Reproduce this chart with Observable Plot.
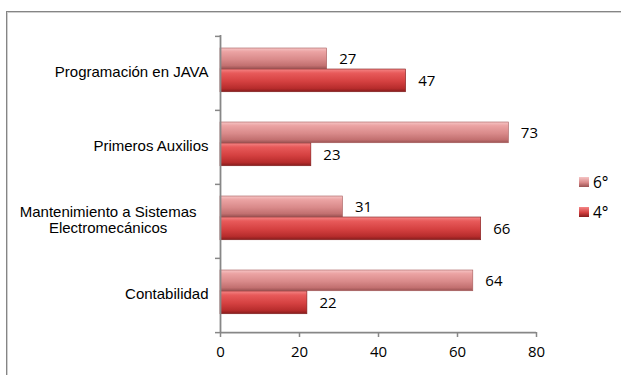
<!DOCTYPE html>
<html>
<head>
<meta charset="utf-8">
<script src="https://cdn.jsdelivr.net/npm/d3@7"></script>
<script src="https://cdn.jsdelivr.net/npm/@observablehq/plot@0.6"></script>
<style>
  html, body { margin: 0; padding: 0; background: #fff; }
  #wrap { position: relative; width: 621px; height: 375px; overflow: hidden; background: #fff; }
  #border { position: absolute; left: 6px; top: 11px; width: 700px; height: 420px; border: 1px solid #858585; box-shadow: inset 1px 1px 0 #d0d0d0; }
  #chart { position: absolute; left: 0; top: 0; }
  #legend { position: absolute; left: 579px; top: 171px; font-family: "Open Sans", sans-serif; font-size: 15.5px; color: #000; }
  .item { display: flex; align-items: center; height: 22px; margin-bottom: 8px; }
  .sw { width: 10px; height: 10px; margin-right: 4px; box-sizing: border-box; }
</style>
</head>
<body>
<div id="wrap">
  <div id="border"></div>
  <div id="chart"></div>
  <div id="legend"></div>
</div>
<script>
// ---- data ----
const categories = ["Programación en JAVA", "Primeros Auxilios", "Mantenimiento a Sistemas\nElectromecánicos", "Contabilidad"];
const seriesNames = ["6°", "4°"];
const values6 = [27, 73, 31, 64];
const values4 = [47, 23, 66, 22];
const xTicks = [0, 20, 40, 60, 80];

const data6 = categories.map((c, i) => ({cat: c, v: values6[i]}));
const data4 = categories.map((c, i) => ({cat: c, v: values4[i]}));

const grads = {
  g6: [["0%", "#f6c4c4"], ["18%", "#eba3a3"], ["55%", "#d98a8a"], ["85%", "#c27070"], ["100%", "#9a5252"]],
  g4: [["0%", "#f48686"], ["18%", "#e85a5a"], ["55%", "#d44040"], ["85%", "#b72c2c"], ["100%", "#861c1c"]]
};

function defsMark() {
  const svg = d3.create("svg:defs");
  for (const [id, stops] of Object.entries(grads)) {
    const g = svg.append("linearGradient").attr("id", id).attr("x1", 0).attr("y1", 0).attr("x2", 0).attr("y2", 1);
    for (const [o, c] of stops) g.append("stop").attr("offset", o).attr("stop-color", c);
  }
  return svg.node();
}

const band = (332 - 35) / categories.length;
const axisColor = "#878787";

const chart = Plot.plot({
  width: 621,
  height: 375,
  marginLeft: 220,
  marginRight: 85,
  marginTop: 35,
  marginBottom: 43,
  style: {background: "transparent", overflow: "visible"},
  x: {domain: [xTicks[0], xTicks[xTicks.length - 1]], axis: null, label: null},
  y: {domain: categories, padding: 0, axis: null, label: null},
  marks: [
    defsMark,
    Plot.barX(data6, {x: "v", y: "cat", fill: "url(#g6)", stroke: "#a55a5a", strokeWidth: 0.6, insetTop: 12, insetBottom: band - 33}),
    Plot.barX(data4, {x: "v", y: "cat", fill: "url(#g4)", stroke: "#7e1c1c", strokeWidth: 0.6, insetTop: 33, insetBottom: band - 56}),
    Plot.text(data6, {x: "v", y: "cat", text: d => String(d.v), dx: 12, dy: -14.5, textAnchor: "start", fontSize: 15, fontFamily: "Open Sans", fill: "#000"}),
    Plot.text(data4, {x: "v", y: "cat", text: d => String(d.v), dx: 12, dy: 7.5, textAnchor: "start", fontSize: 15, fontFamily: "Open Sans", fill: "#000"}),
    Plot.ruleX([xTicks[0]], {stroke: axisColor, strokeWidth: 1.8}),
    Plot.ruleY([categories[categories.length - 1]], {y: d => d, x1: xTicks[0], x2: xTicks[xTicks.length - 1], dy: band / 2, stroke: axisColor, strokeWidth: 1.8}),
    Plot.axisY({label: null, tickSize: 0, tickPadding: 12, dy: -2, fontSize: 15, fontFamily: "Liberation Sans, Arial, sans-serif", lineHeight: 1.07, fill: "#000"}),
    Plot.axisY({label: null, tickSize: 5, tickFormat: () => "", dy: -band / 2, stroke: axisColor, strokeWidth: 1.5}),
    Plot.axisY({label: null, ticks: [categories[categories.length - 1]], tickSize: 5, tickFormat: () => "", dy: band / 2, stroke: axisColor, strokeWidth: 1.5}),
    Plot.axisX({label: null, ticks: xTicks, tickSize: 5, tickPadding: 9, fontSize: 15, fontFamily: "Open Sans", stroke: axisColor, strokeWidth: 1.5, fill: "#000"})
  ]
});

document.getElementById("chart").append(chart);

// Excel-style: multi-line category labels are centred on their own block
chart.querySelectorAll("text").forEach(t => {
  const ts = t.querySelectorAll("tspan");
  if (ts.length > 1) {
    const w = t.getBBox().width;
    t.setAttribute("text-anchor", "middle");
    ts.forEach(s => s.setAttribute("x", -w / 2 - 12));
  }
});

// legend
const legendColors = {"6°": "linear-gradient(#f6c4c4, #d98a8a 55%, #9a5252)", "4°": "linear-gradient(#f48686, #d44040 55%, #861c1c)"};
const legend = d3.select("#legend");
for (const s of seriesNames) {
  const it = legend.append("div").attr("class", "item");
  it.append("div").attr("class", "sw").style("background", legendColors[s]);
  it.append("span").text(s);
}
</script>
</body>
</html>
